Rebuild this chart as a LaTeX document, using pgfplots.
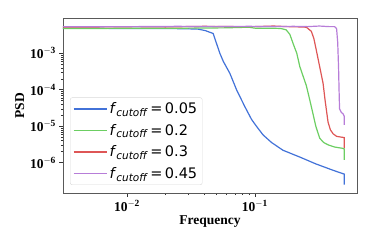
\documentclass[border=0pt]{standalone}
\usepackage{pgfplots}
\pgfplotsset{compat=1.18}
\usepackage{fontspec}
\setmainfont{Liberation Serif}
\newfontfamily\dv{DejaVu Sans}
\definecolor{cblue}{HTML}{4272D8}
\definecolor{cgreen}{HTML}{6CCE62}
\definecolor{cred}{HTML}{DE5656}
\definecolor{cpurple}{HTML}{B77DD8}
\newcommand{\fc}[1]{{\dv\textit{f}\raisebox{-0.35ex}{\fontsize{10.5}{10}\selectfont\textit{cutoff}}\,=\,#1}}
\begin{document}
\begin{tikzpicture}
\begin{axis}[
  scale only axis, width=294pt, height=175pt,
  xmode=log, ymode=log,
  xmin=0.00316, xmax=0.63, ymin=1.48e-7, ymax=0.0093,
  axis line style={draw=black!65, line width=0.9pt},
  tick align=outside, xtick pos=bottom, ytick pos=left,
  major tick length=3.5pt, minor tick length=2pt,
  every tick/.style={black!80, line width=0.6pt},
  xtick={0.01,0.1},
  xticklabels={\textbf{10}$^{\mathbf{-2}}$, \textbf{10}$^{\mathbf{-1}}$},
  ytick={1e-6,1e-5,1e-4,1e-3},
  yticklabels={\textbf{10}$^{\mathbf{-6}}$, \textbf{10}$^{\mathbf{-5}}$, \textbf{10}$^{\mathbf{-4}}$, \textbf{10}$^{\mathbf{-3}}$},
  tick label style={font=\fontsize{13.5}{14}\selectfont},
  xlabel={\textbf{Frequency}}, ylabel={\textbf{PSD}},
  label style={font=\fontsize{13.5}{14}\selectfont},
  xlabel style={yshift=3pt},
  ylabel style={yshift=-1pt},
  legend style={at={(0.024,0.046)}, anchor=south west, draw=black!15, rounded corners=2pt,
    fill=white, font=\fontsize{14.5}{15}\selectfont,
    row sep=5pt, inner xsep=3pt, inner ysep=3pt},
  legend cell align=left,
  legend image code/.code={\draw[#1, line width=1.3pt] (0pt,0pt) -- (29pt,0pt); \path (0pt,0pt) -- (33pt,0pt);},
]
\addplot[cblue, line width=1.2pt] coordinates {
(0.0031,0.0049) (0.005,0.0049) (0.008,0.0048) (0.012,0.0048) (0.02,0.0048) (0.03,0.0047) (0.036,0.0046)
(0.041,0.0042) (0.0472,0.0035) (0.0533,0.001) (0.0567,0.0006) (0.0638,0.000283) (0.072,0.0001)
(0.0835,3.47e-5) (0.0942,1.55e-5) (0.103,1e-5) (0.116,5.8e-6) (0.135,3.6e-6) (0.166,2.2e-6)
(0.224,1.44e-6) (0.30,9.3e-7) (0.41,6.2e-7) (0.49,5.0e-7) (0.5,4.9e-7) (0.5,2.5e-7)};
\addlegendentry{\fc{0.05}}
\addplot[cgreen, line width=1.2pt] coordinates {
(0.0031,0.0048) (0.006,0.0048) (0.012,0.0049) (0.03,0.0049) (0.06,0.0050) (0.09,0.0052) (0.1,0.0049) (0.13,0.0049) (0.16,0.0048)
(0.176,0.0044) (0.188,0.0033) (0.2,0.0018) (0.213,0.001) (0.225,0.00043) (0.253,0.00013)
(0.27,5.0e-5) (0.286,2.1e-5) (0.30,1.0e-5) (0.322,4.7e-6) (0.345,3.6e-6) (0.374,3.1e-6) (0.42,2.7e-6) (0.481,2.5e-6) (0.5,2.4e-6) (0.5,1.2e-6)};
\addlegendentry{\fc{0.2}}
\addplot[cred, line width=1.2pt] coordinates {
(0.0031,0.0053) (0.006,0.0053) (0.012,0.0054) (0.02,0.0053) (0.04,0.0055) (0.07,0.0054) (0.1,0.0054) (0.14,0.0056) (0.18,0.0054) (0.22,0.0053) (0.253,0.0052)
(0.277,0.0040) (0.29,0.0025) (0.303,0.0012) (0.323,0.0004) (0.342,0.00015) (0.355,5.0e-5) (0.374,1.3e-5)
(0.39,8.0e-6) (0.41,6.2e-6) (0.436,5.3e-6) (0.481,5.0e-6) (0.5,4.9e-6) (0.5,2.5e-6)};
\addlegendentry{\fc{0.3}}
\addplot[cpurple, line width=1.2pt] coordinates {
(0.0031,0.0054) (0.006,0.0054) (0.012,0.0054) (0.025,0.0055) (0.05,0.0054) (0.09,0.0055) (0.15,0.0054) (0.2,0.0055) (0.26,0.0054) (0.32,0.0056) (0.38,0.0054) (0.42,0.0054)
(0.436,0.0048) (0.445,0.002) (0.452,0.0004) (0.456,0.0001) (0.46,3.0e-5) (0.475,2.4e-5) (0.49,2.2e-5) (0.5,1.9e-5) (0.5,1.1e-5)};
\addlegendentry{\fc{0.45}}
\end{axis}
\path[use as bounding box] (current axis.south west) ++(-63pt,-56pt) rectangle ++(374pt,249pt);
\end{tikzpicture}
\end{document}
